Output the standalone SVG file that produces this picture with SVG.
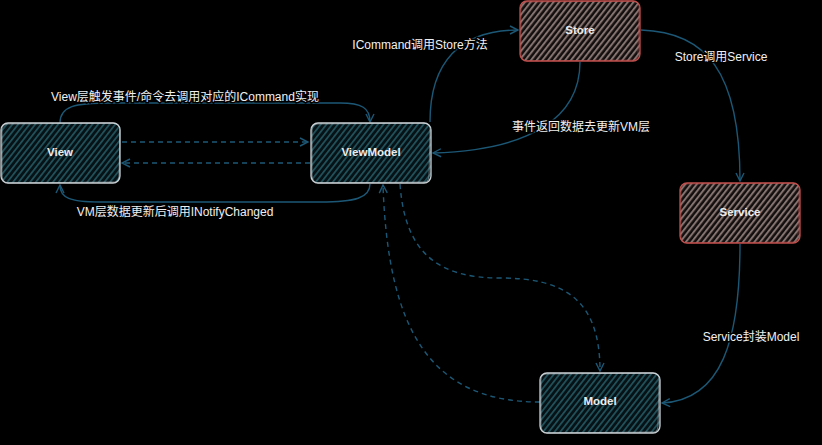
<svg xmlns="http://www.w3.org/2000/svg" width="822" height="445" viewBox="0 0 822 445">
<style>
.bg{fill:#000}
.nodeTeal{fill:url(#hTeal);stroke:#c9d0d4;stroke-width:1.3}
.nodeRed{fill:url(#hRed);stroke:#c0504d;stroke-width:1.3}
.sk{fill:none;stroke-width:0.8;opacity:0.6}
.nt{font-family:"Liberation Sans","Noto Sans CJK SC",sans-serif;font-size:11.5px;font-weight:bold;fill:#ececec;text-anchor:middle;dominant-baseline:central}
.lb{font-family:"Liberation Sans","Noto Sans CJK SC",sans-serif;font-size:12px;fill:#f0f0f0;text-anchor:middle;dominant-baseline:central;stroke:#000;stroke-width:3;paint-order:stroke}
.c{fill:none;stroke:#1c5876;stroke-width:1.4}
.d{stroke-dasharray:5 4}
</style>
<defs>
<pattern id="hTeal" patternUnits="userSpaceOnUse" width="4.5" height="4.5" patternTransform="rotate(38)">
<rect width="4.5" height="4.5" fill="#061216"/>
<rect width="1.7" height="4.5" fill="#22535c"/>
</pattern>
<pattern id="hRed" patternUnits="userSpaceOnUse" width="4.5" height="4.5" patternTransform="rotate(38)">
<rect width="4.5" height="4.5" fill="#120e0e"/>
<rect width="2" height="4.5" fill="#857370"/>
</pattern>
<marker id="ar" viewBox="0 0 10 10" refX="9" refY="5" markerWidth="10" markerHeight="10" markerUnits="userSpaceOnUse" orient="auto">
<path d="M1,1 L9,5 L1,9" fill="none" stroke="#1c5876" stroke-width="1.4"/>
</marker>
</defs>
<rect class="bg" x="0" y="0" width="822" height="445"/>
<g id="connectors">
<path class="c" d="M60,123 C60,106 75,103 110,103 L340,103 C362,103 370,108 370,122" marker-end="url(#ar)"/>
<path class="c d" d="M122,142 L308,142" marker-end="url(#ar)"/>
<path class="c d" d="M310,163 L122,163" marker-end="url(#ar)"/>
<path class="c" d="M370,184 C370,198 355,202 320,202 L100,202 C70,202 60,198 60,185" marker-end="url(#ar)"/>
<path class="c" d="M430,122 C430,62 460,30 518,30" marker-end="url(#ar)"/>
<path class="c" d="M580,62 C580,118 530,150 433,153" marker-end="url(#ar)"/>
<path class="c" d="M641,30 C705,32 740,70 740,181" marker-end="url(#ar)"/>
<path class="c" d="M740,244 C740,340 722,400 662,403" marker-end="url(#ar)"/>
<path class="c d" d="M400,184 C405,255 440,278 500,278 C565,278 600,300 600,371" marker-end="url(#ar)"/>
<path class="c d" d="M540,402 C430,402 388,330 383,185" marker-end="url(#ar)"/>
<text class="lb" x="185" y="97">View层触发事件/命令去调用对应的ICommand实现</text>
<text class="lb" x="175" y="212">VM层数据更新后调用INotifyChanged</text>
<text class="lb" x="420" y="45">ICommand调用Store方法</text>
<text class="lb" x="581" y="127">事件返回数据去更新VM层</text>
<text class="lb" x="721" y="57">Store调用Service</text>
<text class="lb" x="751" y="337">Service封装Model</text>
</g>
<g id="view">
<rect class="nodeTeal" x="1" y="123" width="119" height="60" rx="7"/>
<path class="sk" stroke="#c9d0d4" d="M8,124 L114,123 Q121,124 120,131 L119,176 Q119,183 112,182 L8,183 Q2,182 2,175 L2,130 Q2,124 8,124"/>
<text class="nt" x="60" y="152">View</text>
</g>
<g id="viewmodel">
<rect class="nodeTeal" x="311" y="123" width="120" height="60" rx="7"/>
<path class="sk" stroke="#c9d0d4" d="M318,124 L424,123 Q431,124 430,131 L429,176 Q429,183 422,182 L318,183 Q312,182 312,175 L312,130 Q312,124 318,124"/>
<text class="nt" x="371" y="152">ViewModel</text>
</g>
<g id="store">
<rect class="nodeRed" x="520" y="1" width="120" height="60" rx="7"/>
<path class="sk" stroke="#c0504d" d="M527,2 L633,1 Q640,2 639,9 L638,54 Q638,61 631,60 L527,61 Q521,60 521,53 L521,8 Q521,2 527,2"/>
<text class="nt" x="580" y="30">Store</text>
</g>
<g id="service">
<rect class="nodeRed" x="680" y="183" width="120" height="60" rx="7"/>
<path class="sk" stroke="#c0504d" d="M687,184 L793,183 Q800,184 799,191 L798,236 Q798,243 791,242 L687,243 Q681,242 681,235 L681,190 Q681,184 687,184"/>
<text class="nt" x="740" y="212">Service</text>
</g>
<g id="model">
<rect class="nodeTeal" x="540" y="373" width="120" height="60" rx="7"/>
<path class="sk" stroke="#c9d0d4" d="M547,374 L653,373 Q660,374 659,381 L658,426 Q658,433 651,432 L547,433 Q541,432 541,425 L541,380 Q541,374 547,374"/>
<text class="nt" x="600" y="401">Model</text>
</g>
</svg>
